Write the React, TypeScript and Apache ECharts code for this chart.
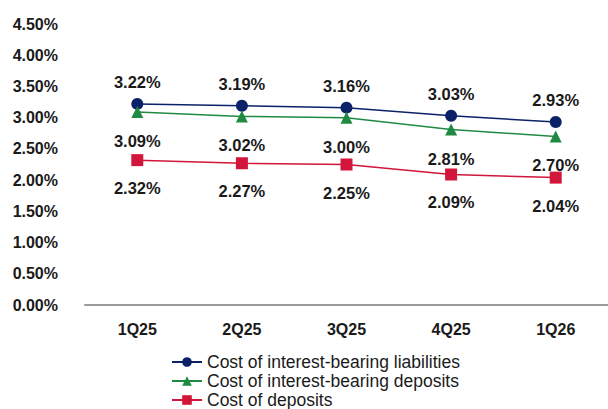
import React, { useEffect, useRef } from "react";
import * as echarts from "echarts";

const categories = ["1Q25", "2Q25", "3Q25", "4Q25", "1Q26"];
const liabilities = [3.22, 3.19, 3.16, 3.03, 2.93];
const ibDeposits = [3.09, 3.02, 3.0, 2.81, 2.7];
const deposits = [2.32, 2.27, 2.25, 2.09, 2.04];
const seriesNames = [
  "Cost of interest-bearing liabilities",
  "Cost of interest-bearing deposits",
  "Cost of deposits",
];

export default function App() {
  const ref = useRef<HTMLDivElement>(null);
  useEffect(() => {
    if (!ref.current) return;
    const chart = echarts.init(ref.current, null, { renderer: "svg" });
    const font = "Liberation Sans, Arial, Helvetica, sans-serif";
    const labelBase = {
      show: true,
      fontSize: 16.5,
      fontWeight: "bold" as const,
      color: "#1a1a1a",
      fontFamily: font,
      formatter: (p: any) => p.value.toFixed(2) + "%",
    };
    chart.setOption({
      animation: false,
      backgroundColor: "#ffffff",
      textStyle: { fontFamily: font },
      grid: { left: 85, right: -3, top: 24, bottom: 104, containLabel: false },
      legend: {
        orient: "vertical",
        left: 171,
        bottom: 0,
        padding: 0,
        itemGap: 1,
        itemWidth: 30,
        itemHeight: 12,
        textStyle: { fontSize: 17.5, lineHeight: 18, color: "#1a1a1a", fontFamily: font },
        data: seriesNames,
      },
      xAxis: {
        type: "category",
        data: categories,
        boundaryGap: true,
        axisLine: { show: true, lineStyle: { color: "#9a9a9a", width: 2 } },
        axisTick: { show: false },
        axisLabel: {
          margin: 16,
          fontSize: 16,
          fontWeight: "bold",
          color: "#1a1a1a",
          fontFamily: font,
        },
      },
      yAxis: {
        type: "value",
        min: 0,
        max: 4.5,
        interval: 0.5,
        splitLine: { show: false },
        axisLine: { show: false },
        axisTick: { show: false },
        axisLabel: {
          margin: 27,
          fontSize: 16,
          fontWeight: "bold",
          color: "#1a1a1a",
          fontFamily: font,
          formatter: (v: number) => v.toFixed(2) + "%",
        },
      },
      series: [
        {
          name: seriesNames[0],
          type: "line",
          data: liabilities,
          symbol: "circle",
          symbolSize: 12,
          itemStyle: { color: "#0b2268" },
          lineStyle: { color: "#0b2268", width: 1.5 },
          label: { ...labelBase, position: "top", distance: 7.5 },
        },
        {
          name: seriesNames[1],
          type: "line",
          data: ibDeposits,
          symbol: "triangle",
          symbolSize: 12,
          itemStyle: { color: "#1f8a42" },
          lineStyle: { color: "#1f8a42", width: 1.5 },
          label: { ...labelBase, position: "bottom", distance: 14.5 },
        },
        {
          name: seriesNames[2],
          type: "line",
          data: deposits,
          symbol: "rect",
          symbolSize: 12,
          itemStyle: { color: "#d2153a" },
          lineStyle: { color: "#d2153a", width: 1.5 },
          label: { ...labelBase, position: "bottom", distance: 13.5 },
        },
      ],
    });
    return () => chart.dispose();
  }, []);
  return <div ref={ref} style={{ width: 608, height: 409, position: "absolute", left: 0, top: 0 }} />;
}
